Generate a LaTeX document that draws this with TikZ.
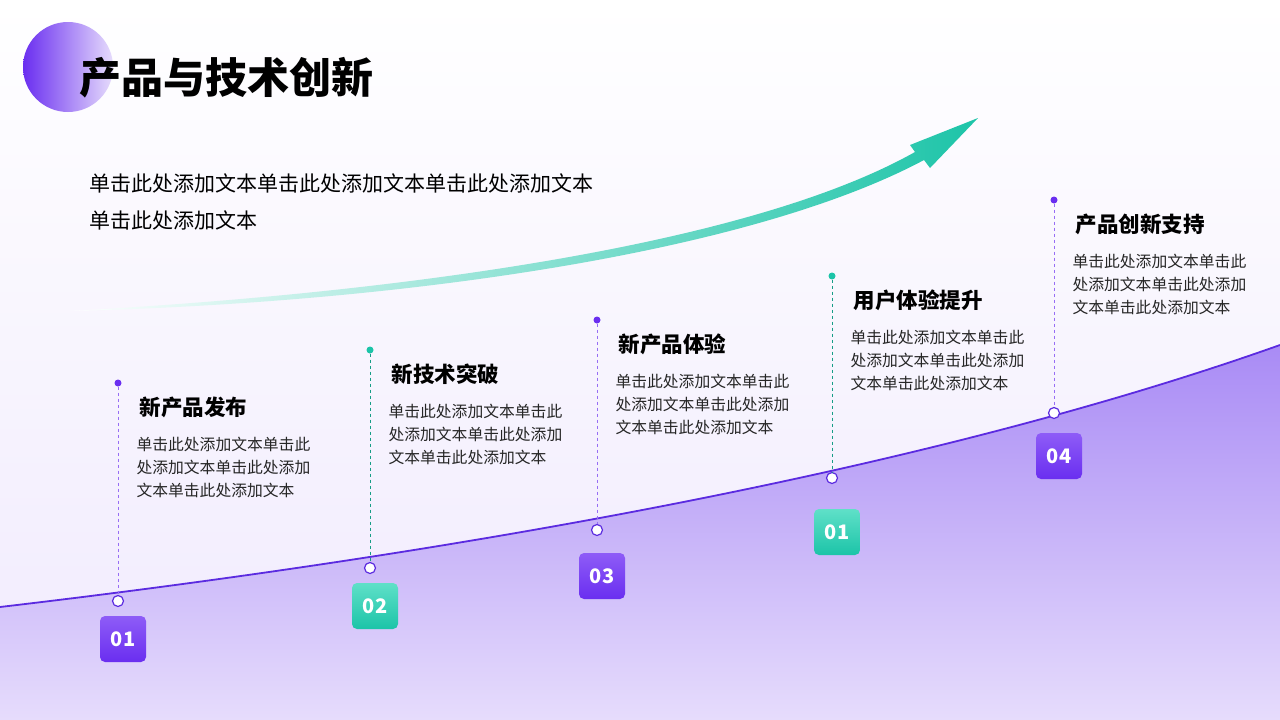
\documentclass[tikz,border=0pt]{standalone}
\usepackage{fontspec}
\setmainfont{Noto Sans CJK SC}
\usetikzlibrary{arrows.meta}
\definecolor{pur}{HTML}{6A2EF0}
\definecolor{pur2}{HTML}{8E5CF7}
\definecolor{tea}{HTML}{1CC4A8}
\definecolor{tea2}{HTML}{5FE0C8}
\definecolor{line}{HTML}{5B2BE0}
\definecolor{fillA}{HTML}{A98BF5}
\definecolor{fillB}{HTML}{E6DCFC}
\tikzset{
  ttl/.style={anchor=west,font=\bfseries\fontsize{21.5}{24}\selectfont,text=black},
  body/.style={anchor=north west,align=left,font=\fontsize{15.8}{23}\selectfont,text=black!85},
  pin/.style={circle,draw=line,fill=white,line width=1.2pt,minimum size=11pt,inner sep=0pt},
  dotp/.style={circle,fill=pur,minimum size=7pt,inner sep=0pt},
  dott/.style={circle,fill=tea,minimum size=7pt,inner sep=0pt},
  boxp/.style={rounded corners=5pt,minimum size=46pt,inner sep=0pt,top color=pur2,bottom color=pur,text=white,font=\bfseries\fontsize{20}{20}\selectfont},
  boxt/.style={rounded corners=5pt,minimum size=46pt,inner sep=0pt,top color=tea2,bottom color=tea,text=white,font=\bfseries\fontsize{20}{20}\selectfont},
  dp/.style={dashed,pur!70,line width=0.8pt},
  dt/.style={dashed,tea!80!black,line width=0.8pt}
}
\begin{document}
\begin{tikzpicture}[x=1pt,y=-1pt]
\fill[top color=white,bottom color=fillB!60] (0,0) rectangle (1280,720);
\useasboundingbox (0,0) rectangle (1280,720);
% area
\fill[top color=fillA,bottom color=fillB] (0,607) .. controls (400,560) and (900,480) .. (1280,345) -- (1280,720) -- (0,720) -- cycle;
\draw[line,line width=1.8pt] (0,607) .. controls (400,560) and (900,480) .. (1280,345);
% circle + title
\shade[left color=pur,right color=fillB] (68,67) circle (45);
\node[anchor=west,font=\bfseries\fontsize{42}{44}\selectfont] (title) at (76,78) {产品与技术创新};
\node[anchor=west,font=\fontsize{21}{24}\selectfont] (p1) at (86,183) {单击此处添加文本单击此处添加文本单击此处添加文本};
\node[anchor=west,font=\fontsize{21}{24}\selectfont] (p2) at (86,220) {单击此处添加文本};
% arrow
\shade[left color=white,right color=tea] (70,311) .. controls (400,293) and (750,245) .. (915,152) -- (910,145) -- (978,118) -- (930,168) -- (924,160) .. controls (750,253) and (400,303) .. (70,311) -- cycle;
% items
\foreach \n/\x/\ty/\py/\by/\ds/\dl/\bs/\lab/\t in {
 a/118/383/601/639/dotp/dp/boxp/01/新产品发布,
 b/370/350/568/606/dott/dt/boxt/02/新技术突破,
 c/597/320/530/576/dotp/dp/boxp/03/新产品体验,
 d/832/276/478/532/dott/dt/boxt/01/用户体验提升,
 e/1054/200/413/456/dotp/dp/boxp/04/产品创新支持}{
  \node[\ds] (d\n) at (\x,\ty) {};
  \node[pin] (c\n) at (\x,\py) {};
  \draw[\dl] (d\n) -- (c\n);
  \node[\bs] (b\n) at (\x+5,\by) {\lab};
  \node[ttl] (t\n) at (\x+18,\ty+24) {\t};
  \node[body] (x\n) at (\x+15,\ty+51) {单击此处添加文本单击此\\处添加文本单击此处添加\\文本单击此处添加文本};
}
\end{tikzpicture}
\end{document}
